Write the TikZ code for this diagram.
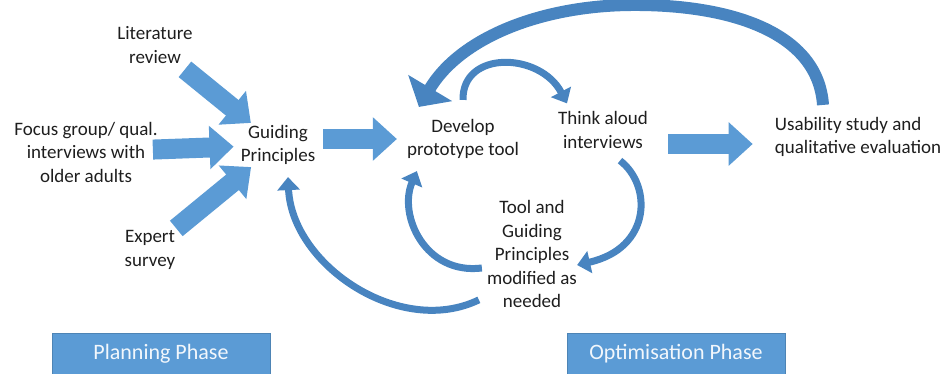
\documentclass[tikz,border=0pt]{standalone}
\usepackage{fontspec}
\setmainfont{Carlito}
\usetikzlibrary{arrows.meta}

\begin{document}
\begin{tikzpicture}[x=1pt, y=-1pt]
\definecolor{phaseblue}{RGB}{91,155,213}
\definecolor{loopblue}{RGB}{72,132,192}
\definecolor{darktext}{RGB}{30,30,30}
\tikzstyle{label_text}=[align=center, inner sep=2pt, text=darktext, font=\fontsize{19}{23.5}\selectfont];
\tikzstyle{phase_box}=[rectangle, fill=phaseblue, draw=phaseblue!85!black, text=white!92!phaseblue, minimum width=218pt, minimum height=42pt, font=\fontsize{22}{26}\selectfont];
\tikzstyle{fat_arrow}=[draw=phaseblue, line width=20pt, -{Triangle[length=24pt,width=42pt]}];
\tikzstyle{loop_arrow}=[draw=loopblue, line width=7pt, -{Triangle[length=13pt,width=22pt]}];
\tikzstyle{big_loop}=[draw=loopblue, line width=12pt, -{Triangle[length=22pt,width=50pt]}];

\useasboundingbox (0,0) rectangle (945,373);

\node [label_text] at (155,45) (lit) {Literature\\review};
\node [label_text] at (86,152) (focus) {Focus group/ qual.\\interviews with\\older adults};
\node [label_text] at (150,250) (expert) {Expert\\survey};
\node [label_text] at (278,145) (guide) {Guiding\\Principles};
\node [label_text] at (463,139) (dev) {Develop\\prototype tool};
\node [label_text] at (603,130) (think) {Think aloud\\interviews};
\node [label_text, align=left] at (858,137) (use) {Usability study and\\qualitative evaluation};
\node [label_text] at (532,254) (mod) {Tool and\\Guiding\\Principles\\modified as\\needed};
\node [phase_box] at (161,354) (plan) {Planning Phase};
\node [phase_box] at (676,354) (opt) {Optimisation Phase};

\draw[fat_arrow, shorten <=6pt] (lit) -- (guide);
\draw[fat_arrow, shorten <=-7pt, shorten >=5pt] (focus) -- (guide);
\draw[fat_arrow] (expert) -- (guide);
\draw[fat_arrow, shorten <=6pt, shorten >=8pt] (guide.east |- dev) -- (dev.west);
\draw[fat_arrow, shorten <=18pt, shorten >=20pt] ([yshift=-14pt]think.east) -- ([yshift=-7pt]use.west);

\draw[big_loop] ([xshift=-35pt,yshift=10pt]use.north) .. controls (818,32) and (730,4) .. (630,5) .. controls (540,6) and (460,38) .. ([shift={(14,-10)}]dev.north west);
\draw[loop_arrow] ([yshift=17pt]dev.north) .. controls (462,50) and (540,52) .. ([xshift=-36pt,yshift=6pt]think.north);
\draw[loop_arrow] ([shift={(17,10)}]think.south) .. controls (652,185) and (652,248) .. ([shift={(-2,11)}]mod.east);
\draw[loop_arrow] ([shift={(-3,14)}]mod.west) .. controls (425,275) and (398,215) .. ([shift={(12,10)}]dev.south west);
\draw[loop_arrow] ([shift={(-6,-10)}]mod.south west) .. controls (400,338) and (292,265) .. ([shift={(10,10)}]guide.south);

\end{tikzpicture}
\end{document}
